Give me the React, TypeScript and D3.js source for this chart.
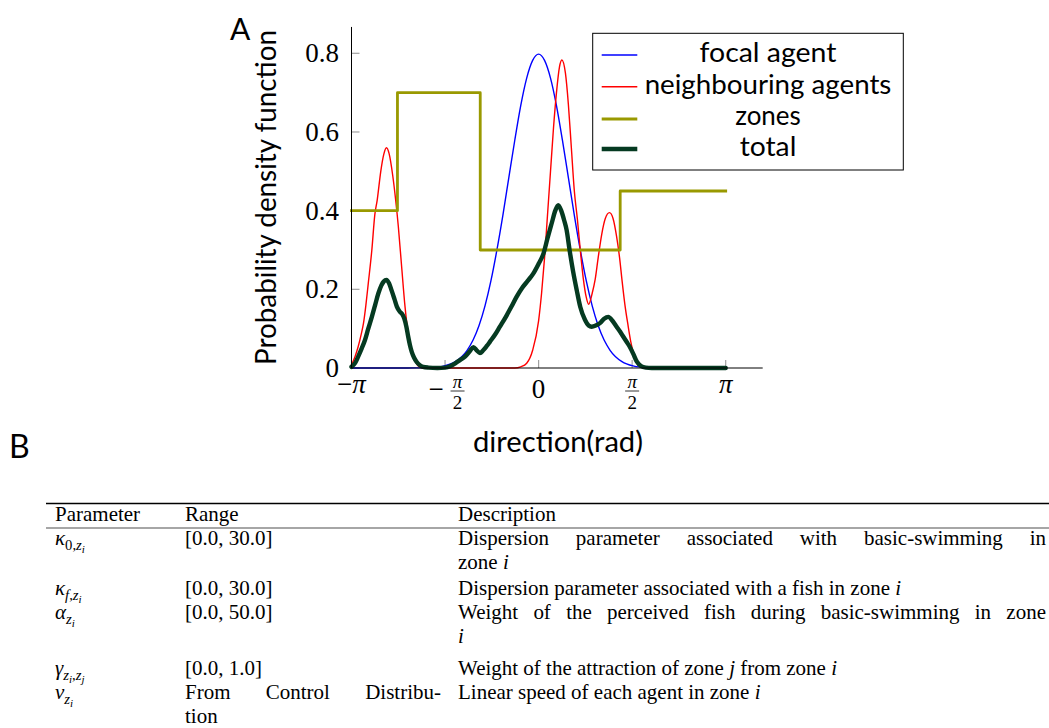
import React, { useLayoutEffect, useRef } from "react";
import * as d3 from "d3";

const PI = Math.PI;

// ---------- chart data (direction in rad, probability density) ----------
const focalX = [-3.1416, -2.4, -2.2, -2.0, -1.8, -1.6, -1.4, -1.2, -1.1, -1.0, -0.9, -0.8, -0.7, -0.6, -0.5, -0.4, -0.3, -0.2, -0.1, 0.0, 0.1, 0.2, 0.3, 0.4, 0.5, 0.6, 0.7, 0.8, 0.9, 1.0, 1.1, 1.2, 1.4, 1.6, 1.8, 2.0, 2.2, 2.4, 3.1416];
const focalY = [0, 0, 0.0001, 0.0003, 0.0012, 0.0048, 0.016, 0.045, 0.071, 0.108, 0.158, 0.222, 0.3, 0.388, 0.484, 0.579, 0.667, 0.737, 0.782, 0.798, 0.782, 0.737, 0.667, 0.579, 0.484, 0.388, 0.3, 0.222, 0.158, 0.108, 0.071, 0.045, 0.016, 0.0048, 0.0012, 0.0003, 0.0001, 0, 0];

const neighbourX = [-3.1416, -3.08, -3.03, -2.98, -2.94, -2.9, -2.86, -2.8, -2.75, -2.71, -2.65, -2.6, -2.555, -2.51, -2.45, -2.4, -2.355, -2.3, -2.243, -2.19, -2.14, -2.1, -2.02, -1.95, -0.4, -0.3, -0.2, -0.1, 0.0, 0.05, 0.1, 0.15, 0.2, 0.25, 0.3, 0.35, 0.39, 0.45, 0.5, 0.55, 0.6, 0.65, 0.7, 0.75, 0.8, 0.84, 0.9, 0.95, 1.0, 1.06, 1.12, 1.19, 1.25, 1.31, 1.36, 1.4, 1.45, 1.5, 1.55, 1.6, 1.67, 1.75, 1.85, 3.1416];
const neighbourY = [0.008, 0.03, 0.054, 0.085, 0.114, 0.16, 0.215, 0.3, 0.39, 0.427, 0.5, 0.543, 0.56, 0.545, 0.49, 0.427, 0.359, 0.258, 0.156, 0.088, 0.05, 0.029, 0.005, 0, 0, 0.003, 0.012, 0.045, 0.12, 0.19, 0.28, 0.39, 0.5, 0.61, 0.7, 0.765, 0.783, 0.75, 0.67, 0.56, 0.45, 0.38, 0.3, 0.228, 0.18, 0.162, 0.19, 0.225, 0.28, 0.34, 0.38, 0.395, 0.38, 0.334, 0.28, 0.224, 0.16, 0.11, 0.065, 0.033, 0.008, 0.001, 0, 0];

const zoneBreaks = [-3.1416, -2.37, -0.98, 1.37, 3.1416];
const zoneLevels = [0.4, 0.7, 0.3, 0.45, 0.45];

const totalX = [-3.1416, -3.08, -3.03, -2.97, -2.915, -2.86, -2.8, -2.745, -2.69, -2.64, -2.6, -2.555, -2.51, -2.47, -2.42, -2.38, -2.33, -2.29, -2.255, -2.22, -2.19, -2.16, -2.13, -2.09, -2.05, -2.0, -1.94, -1.85, -1.7, -1.57, -1.48, -1.4, -1.32, -1.236, -1.16, -1.096, -1.04, -0.984, -0.93, -0.87, -0.816, -0.73, -0.65, -0.55, -0.46, -0.37, -0.28, -0.18, -0.09, 0.0, 0.08, 0.15, 0.22, 0.28, 0.33, 0.38, 0.43, 0.47, 0.52, 0.58, 0.64, 0.7, 0.78, 0.84, 0.89, 0.96, 1.03, 1.1, 1.17, 1.24, 1.31, 1.37, 1.42, 1.48, 1.53, 1.59, 1.65, 1.72, 1.8, 1.9, 3.1416];
const totalY = [0.003, 0.013, 0.029, 0.05, 0.071, 0.1, 0.13, 0.16, 0.19, 0.21, 0.22, 0.224, 0.215, 0.198, 0.175, 0.156, 0.143, 0.137, 0.126, 0.105, 0.08, 0.058, 0.041, 0.026, 0.016, 0.008, 0.003, 0.001, 0, 0.001, 0.005, 0.012, 0.02, 0.029, 0.042, 0.053, 0.045, 0.038, 0.045, 0.056, 0.067, 0.085, 0.105, 0.13, 0.155, 0.181, 0.203, 0.222, 0.24, 0.265, 0.29, 0.33, 0.368, 0.4, 0.414, 0.4, 0.375, 0.351, 0.3, 0.245, 0.198, 0.155, 0.122, 0.108, 0.105, 0.108, 0.114, 0.125, 0.13, 0.12, 0.105, 0.092, 0.08, 0.066, 0.054, 0.036, 0.016, 0.005, 0.001, 0, 0];

const seriesNames = ["focal agent", "neighbouring agents", "zones", "total"];
const seriesColors = ["#0000ff", "#ff0000", "#999900", "#053a21"];
const seriesWidths = [1.4, 1.4, 2.8, 4.4];

const xTickValues = [-PI, -PI / 2, 0, PI / 2, PI];
const xTickLabels = ["−π", "−π/2", "0", "π/2", "π"];
const yTickValues = [0, 0.2, 0.4, 0.6, 0.8];
const yTickLabels = ["0", "0.2", "0.4", "0.6", "0.8"];

// ---------- table data ----------
const tableHeaders = ["Parameter", "Range", "Description"];
type Seg = [string, boolean];
const paramRanges: string[][] = [
  ["[0.0, 30.0]"],
  ["[0.0, 30.0]"],
  ["[0.0, 50.0]"],
  ["[0.0, 1.0]"],
  ["From Control Distribu-", "tion"],
];
const paramDescriptions: Seg[][][] = [
  [[["Dispersion parameter associated with basic-swimming in", false]], [["zone ", false], ["i", true]]],
  [[["Dispersion parameter associated with a fish in zone ", false], ["i", true]]],
  [[["Weight of the perceived fish during basic-swimming in zone", false]], [["i", true]]],
  [[["Weight of the attraction of zone ", false], ["j", true], [" from zone ", false], ["i", true]]],
  [[["Linear speed of each agent in zone ", false], ["i", true]]],
];

const W = 1049;
const H = 728;
const SANS = "Lato, 'Open Sans', sans-serif";
const SERIF = "'Liberation Serif', 'DejaVu Serif', serif";

export default function App() {
  const svgRef = useRef<SVGSVGElement | null>(null);

  useLayoutEffect(() => {
    const svg = svgRef.current;
    if (!svg) return;
    svg.querySelectorAll<SVGTextElement>("text[data-justify]").forEach((el) => {
      const target = parseFloat(el.getAttribute("data-justify") || "0");
      el.setAttribute("word-spacing", "0");
      const len = el.getComputedTextLength();
      const n = (el.textContent || "").split(" ").length - 1;
      if (n > 0 && target > len) el.setAttribute("word-spacing", String((target - len) / n));
    });
  });

  const x = d3.scaleLinear().domain([-PI, PI]).range([351.5, 725.7]);
  const y = d3.scaleLinear().domain([0, 0.8]).range([368, 53.3]);
  const smooth = d3
    .line<[number, number]>()
    .x((d) => x(d[0]))
    .y((d) => y(d[1]))
    .curve(d3.curveMonotoneX);
  const step = d3
    .line<[number, number]>()
    .x((d) => x(d[0]))
    .y((d) => y(d[1]))
    .curve(d3.curveStepAfter);

  const zip = (a: number[], b: number[]) => a.map((v, i) => [v, b[i]] as [number, number]);
  const paths = [
    smooth(zip(focalX, focalY)),
    smooth(zip(neighbourX, neighbourY)),
    step(zip(zoneBreaks, zoneLevels)),
    smooth(zip(totalX, totalY)),
  ];

  const x0 = x(-PI);
  const y0 = y(0);
  const axisTop = y(0.867);
  const axisRight = 762.7;

  const renderXLabel = (lab: string, v: number, i: number) => {
    const cx = x(v);
    if (lab.includes("/")) {
      const neg = lab.startsWith("−");
      const fx = neg ? cx + 12.5 : cx;
      return (
        <g key={i} fontFamily={SERIF}>
          {neg && (
            <text x={cx - 9} y={398} fontSize={27} textAnchor="middle">
              −
            </text>
          )}
          <text x={fx} y={388} fontSize={19} fontStyle="italic" textAnchor="middle">
            π
          </text>
          <line x1={fx - 7} x2={fx + 7} y1={391} y2={391} stroke="#000" strokeWidth={0.8} />
          <text x={fx} y={408.5} fontSize={19} textAnchor="middle">
            2
          </text>
        </g>
      );
    }
    if (lab.includes("π")) {
      const neg = lab.startsWith("−");
      return (
        <text key={i} x={cx} y={393} fontSize={27} textAnchor="middle" fontFamily={SERIF}>
          {neg && <tspan>−</tspan>}
          <tspan fontStyle="italic">π</tspan>
        </text>
      );
    }
    return (
      <text key={i} x={cx} y={398} fontSize={27} textAnchor="middle" fontFamily={SERIF}>
        {lab}
      </text>
    );
  };

  // legend layout
  const legRowY = [55, 86.7, 119, 149];
  const legTextY = [61.5, 94, 125, 156];
  const legTextW = [137, 246.7, 65.7, 56.7];

  // table layout
  const colX = [55, 185, 458];
  const sx = 1.05;
  const rowY = [545, 595, 619, 675, 699];
  const lineGap = 24;
  const rightEdge = [0, 441, 1046];
  const tfs = 20;

  const tText = (
    key: string,
    tx: number,
    ty: number,
    children: React.ReactNode,
    justifyTo?: number
  ) => (
    <text
      key={key}
      transform={`translate(${tx},${ty}) scale(${sx},1)`}
      fontFamily={SERIF}
      fontSize={tfs}
      {...(justifyTo ? { "data-justify": String((justifyTo - tx) / sx) } : {})}
    >
      {children}
    </text>
  );

  const sub = 14;
  const subsub = 10.5;
  const symbols: React.ReactNode[] = [
    <>
      <tspan fontStyle="italic">κ</tspan>
      <tspan fontSize={sub} dy={5}>0,</tspan>
      <tspan fontSize={sub} fontStyle="italic">z</tspan>
      <tspan fontSize={subsub} fontStyle="italic" dy={3}>i</tspan>
    </>,
    <>
      <tspan fontStyle="italic">κ</tspan>
      <tspan fontSize={sub} fontStyle="italic" dy={5}>f</tspan>
      <tspan fontSize={sub}>,</tspan>
      <tspan fontSize={sub} fontStyle="italic">z</tspan>
      <tspan fontSize={subsub} fontStyle="italic" dy={3}>i</tspan>
    </>,
    <>
      <tspan fontStyle="italic">α</tspan>
      <tspan fontSize={sub} fontStyle="italic" dy={5}>z</tspan>
      <tspan fontSize={subsub} fontStyle="italic" dy={3}>i</tspan>
    </>,
    <>
      <tspan fontStyle="italic">γ</tspan>
      <tspan fontSize={sub} fontStyle="italic" dy={5}>z</tspan>
      <tspan fontSize={subsub} fontStyle="italic" dy={3}>i</tspan>
      <tspan fontSize={sub} dy={-3}>,</tspan>
      <tspan fontSize={sub} fontStyle="italic">z</tspan>
      <tspan fontSize={subsub} fontStyle="italic" dy={3}>j</tspan>
    </>,
    <>
      <tspan fontStyle="italic">v</tspan>
      <tspan fontSize={sub} fontStyle="italic" dy={5}>z</tspan>
      <tspan fontSize={subsub} fontStyle="italic" dy={3}>i</tspan>
    </>,
  ];

  return (
    <svg
      ref={svgRef}
      width={W}
      height={H}
      viewBox={`0 0 ${W} ${H}`}
      style={{ position: "absolute", left: 0, top: 0, background: "#fff" }}
    >
      <rect x={0} y={0} width={W} height={H} fill="#fff" />

      {/* panel label A */}
      <text x={230} y={40} fontSize={30} fontFamily={SANS}>A</text>

      {/* ticks */}
      {yTickValues.map((v, i) => (
        <line key={"yt" + i} x1={x0} x2={x0 + 8} y1={y(v)} y2={y(v)} stroke="#a0a0a0" strokeWidth={1.2} />
      ))}
      {xTickValues.map((v, i) => (
        <line key={"xt" + i} x1={x(v)} x2={x(v)} y1={y0} y2={y0 - 8} stroke="#a0a0a0" strokeWidth={1.2} />
      ))}

      {/* series */}
      {paths.map((p, i) => (
        <path
          key={"s" + i}
          d={p || ""}
          fill="none"
          stroke={seriesColors[i]}
          strokeWidth={seriesWidths[i]}
          strokeLinejoin="round"
          strokeLinecap={i === 2 ? "square" : "round"}
        />
      ))}

      {/* axes */}
      <line x1={x0} x2={x0} y1={axisTop} y2={y0} stroke="#000" strokeWidth={1} />
      <line x1={x0} x2={axisRight} y1={y0} y2={y0} stroke="#000" strokeWidth={1} />

      {/* y tick labels */}
      {yTickValues.map((v, i) => (
        <text key={"yl" + i} x={339} y={y(v) + 9} fontSize={27} textAnchor="end" fontFamily={SERIF}>
          {yTickLabels[i]}
        </text>
      ))}
      {/* x tick labels */}
      {xTickValues.map((v, i) => renderXLabel(xTickLabels[i], v, i))}

      {/* axis titles */}
      <text
        transform="translate(276,197.5) rotate(-90)"
        fontSize={29}
        fontFamily={SANS}
        textAnchor="middle"
        textLength={335}
        lengthAdjust="spacingAndGlyphs"
      >
        Probability density function
      </text>
      <text x={558} y={452} fontSize={29} fontFamily={SANS} textAnchor="middle" textLength={170} lengthAdjust="spacingAndGlyphs">
        direction(rad)
      </text>

      {/* legend */}
      <rect x={592.7} y={33.3} width={310.6} height={136.7} fill="#fff" stroke="#000" strokeWidth={1} />
      {seriesNames.map((n, i) => (
        <g key={"lg" + i}>
          <line x1={601.7} x2={637.3} y1={legRowY[i]} y2={legRowY[i]} stroke={seriesColors[i]} strokeWidth={seriesWidths[i]} />
          <text
            x={768}
            y={legTextY[i]}
            fontSize={27}
            fontFamily={SANS}
            textAnchor="middle"
            textLength={legTextW[i]}
            lengthAdjust="spacingAndGlyphs"
          >
            {n}
          </text>
        </g>
      ))}

      {/* panel label B */}
      <text x={9} y={458} fontSize={32} fontFamily={SANS}>B</text>

      {/* table */}
      <line x1={46} x2={W} y1={503.5} y2={503.5} stroke="#000" strokeWidth={1.3} />
      <line x1={46} x2={W} y1={528} y2={528} stroke="#000" strokeWidth={0.7} />
      {tableHeaders.map((h, i) => tText("h" + i, colX[i], 521, h))}
      {symbols.map((s, r) => tText("p" + r, colX[0], rowY[r], s))}
      {paramRanges.map((lines, r) =>
        lines.map((ln, k) =>
          tText(
            "r" + r + "_" + k,
            colX[1],
            rowY[r] + k * lineGap,
            ln,
            lines.length > 1 && k < lines.length - 1 ? rightEdge[1] : undefined
          )
        )
      )}
      {paramDescriptions.map((lines, r) =>
        lines.map((segs, k) =>
          tText(
            "d" + r + "_" + k,
            colX[2],
            rowY[r] + k * lineGap,
            segs.map((sg, j) => (
              <tspan key={j} fontStyle={sg[1] ? "italic" : "normal"}>
                {sg[0]}
              </tspan>
            )),
            lines.length > 1 && k < lines.length - 1 ? rightEdge[2] : undefined
          )
        )
      )}
    </svg>
  );
}
